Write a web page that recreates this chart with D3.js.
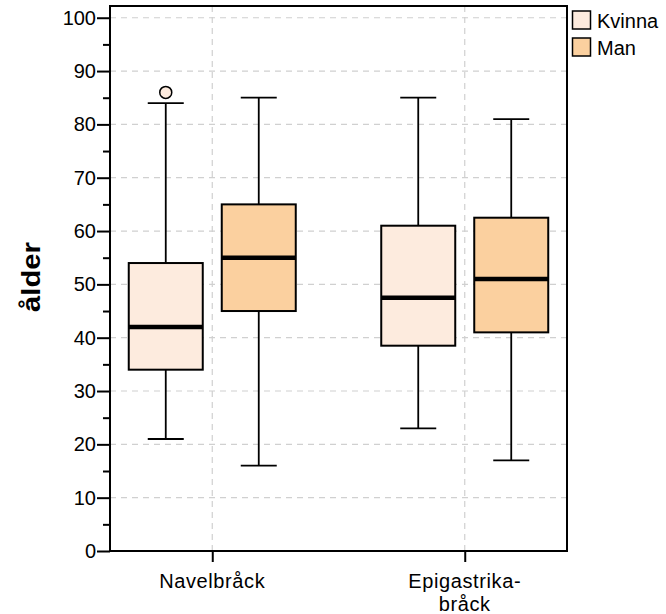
<!DOCTYPE html>
<html><head><meta charset="utf-8">
<script src="https://cdn.jsdelivr.net/npm/d3@7"></script>
<style>body{margin:0;background:#fff;} text{font-family:"Liberation Sans",Arial,sans-serif;}</style>
</head><body>
<svg id="c" width="666" height="614"></svg>
<script>
const categories = ["Navelbråck", "Epigastrika-\nbråck"];
const groups = ["Kvinna", "Man"];
const groupColors = ["#FDEBDE", "#FBD09F"];
// per category, per group: [min, q1, median, q3, max]
const kvinnaStats = [[21, 34, 42, 54, 84], [23, 38.5, 47.5, 61, 85]];
const manStats = [[16, 45, 55, 65, 85], [17, 41, 51, 62.5, 81]];
const outliers = [{cat: 0, group: 0, value: 86}];
const yTicks = [0, 10, 20, 30, 40, 50, 60, 70, 80, 90, 100];
const yMinorTicks = [5, 15, 25, 35, 45, 55, 65, 75, 85, 95];
const yLabel = "ålder";

const svg = d3.select("#c");
const L = 110, R = 567, T = 6, B = 551;
const y = d3.scaleLinear().domain([0, 102.2]).range([B, T]);
const x = d3.scalePoint().domain(d3.range(categories.length)).range([L, R]).padding(0.405);
const gx = d3.scalePoint().domain(d3.range(groups.length)).range([-46.5, 46.5]);
const boxW = 74, capW = 36;

// grid
const grid = svg.append("g").attr("stroke", "#d0d0d0").attr("stroke-dasharray", "6,5").attr("stroke-width", 1.2);
yTicks.filter(t => t > 0).forEach(t => grid.append("line").attr("x1", L).attr("x2", R).attr("y1", y(t)).attr("y2", y(t)));
categories.forEach((c, i) => grid.append("line").attr("x1", x(i)).attr("x2", x(i)).attr("y1", T).attr("y2", B));

// boxes
const allStats = [kvinnaStats, manStats];
categories.forEach((c, ci) => {
  groups.forEach((g, gi) => {
    const s = allStats[gi][ci];
    const cx = x(ci) + gx(gi);
    const gg = svg.append("g");
    gg.append("line").attr("x1", cx).attr("x2", cx).attr("y1", y(s[0])).attr("y2", y(s[4])).attr("stroke", "#000").attr("stroke-width", 1.8);
    [s[0], s[4]].forEach(v => gg.append("line").attr("x1", cx - capW / 2).attr("x2", cx + capW / 2).attr("y1", y(v)).attr("y2", y(v)).attr("stroke", "#000").attr("stroke-width", 1.8));
    gg.append("rect").attr("x", cx - boxW / 2).attr("y", y(s[3])).attr("width", boxW).attr("height", y(s[1]) - y(s[3]))
      .attr("fill", groupColors[gi]).attr("stroke", "#000").attr("stroke-width", 2);
    gg.append("line").attr("x1", cx - boxW / 2).attr("x2", cx + boxW / 2).attr("y1", y(s[2])).attr("y2", y(s[2])).attr("stroke", "#000").attr("stroke-width", 4.5);
  });
});
outliers.forEach(o => {
  svg.append("circle").attr("cx", x(o.cat) + gx(o.group)).attr("cy", y(o.value)).attr("r", 6)
    .attr("fill", groupColors[o.group]).attr("stroke", "#000").attr("stroke-width", 1.5);
});

// frame
svg.append("rect").attr("x", L).attr("y", T).attr("width", R - L).attr("height", B - T).attr("fill", "none").attr("stroke", "#000").attr("stroke-width", 2);

// y axis
const yAxis = svg.append("g").attr("transform", `translate(${L},0)`)
  .call(d3.axisLeft(y).tickValues(yTicks).tickSize(13).tickPadding(1));
yAxis.select(".domain").remove();
yAxis.selectAll(".tick line").attr("stroke-width", 2);
yAxis.selectAll("text").attr("font-size", 20).attr("fill", "#000").attr("font-family", "Liberation Sans, Arial, sans-serif");
const yMinor = svg.append("g").attr("transform", `translate(${L},0)`)
  .call(d3.axisLeft(y).tickValues(yMinorTicks).tickSize(7).tickFormat(""));
yMinor.select(".domain").remove();
yMinor.selectAll(".tick line").attr("stroke-width", 2);

// x axis
const xAxis = svg.append("g").attr("transform", `translate(0,${B})`)
  .call(d3.axisBottom(x).tickSize(11).tickFormat(""));
xAxis.select(".domain").remove();
xAxis.selectAll(".tick line").attr("stroke-width", 2);
categories.forEach((c, i) => {
  c.split("\n").forEach((ln, k) => {
    svg.append("text").attr("x", x(i)).attr("y", 588 + k * 22.7).attr("text-anchor", "middle")
      .attr("font-size", 20).attr("letter-spacing", 0.6).attr("fill", "#000").text(ln);
  });
});

// y label
svg.append("text").attr("transform", "translate(40,277) rotate(-90)").attr("text-anchor", "middle")
  .attr("font-size", 25).attr("font-weight", "bold").attr("fill", "#000")
  .attr("textLength", 70).attr("lengthAdjust", "spacingAndGlyphs").text(yLabel);

// legend
groups.forEach((g, i) => {
  const yy = 11 + i * 27;
  svg.append("rect").attr("x", 572.5).attr("y", yy).attr("width", 18).attr("height", 18)
    .attr("fill", groupColors[i]).attr("stroke", "#000").attr("stroke-width", 1.5);
  svg.append("text").attr("x", 597).attr("y", yy + 17).attr("font-size", 20).attr("fill", "#000").text(g);
});
</script>
</body></html>
